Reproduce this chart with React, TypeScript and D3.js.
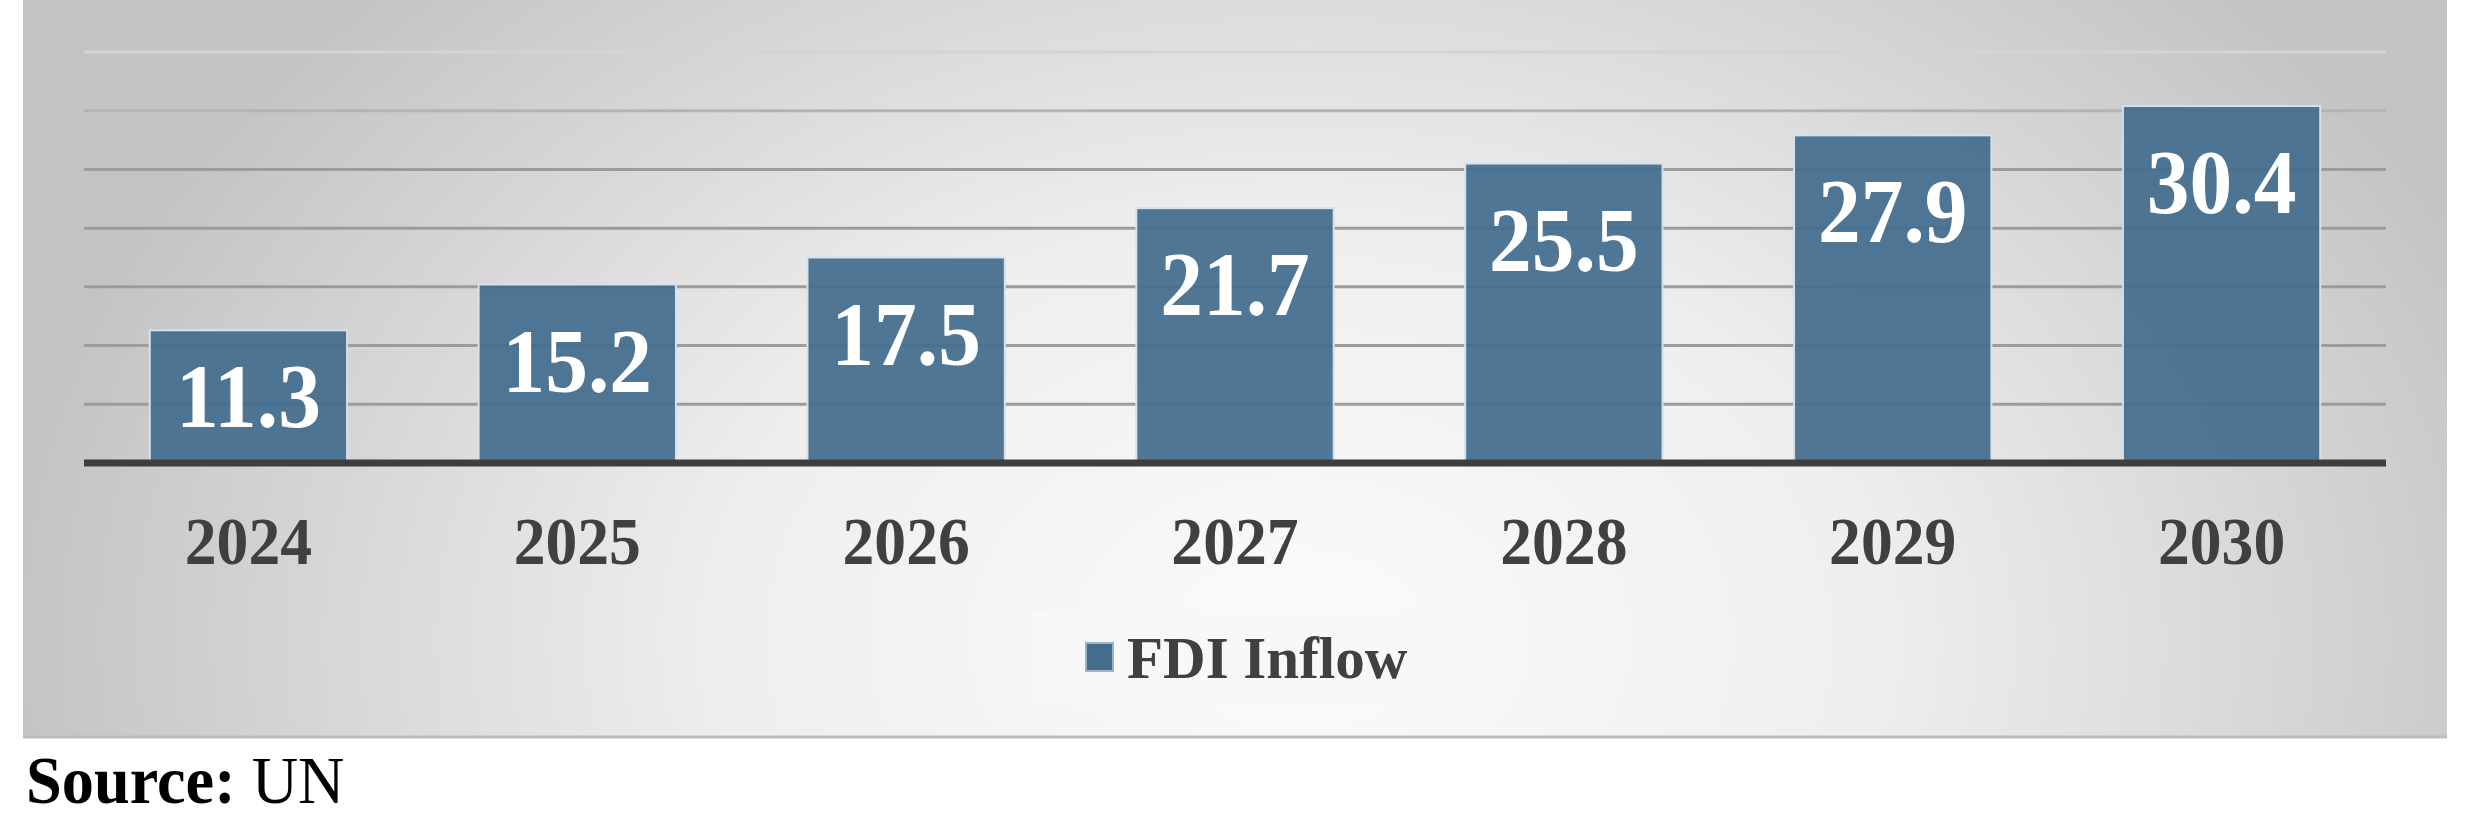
import React from 'react';
import * as d3 from 'd3';

// FDI inflow by year
const years = ['2024', '2025', '2026', '2027', '2028', '2029', '2030'];
const fdiInflow = [11.3, 15.2, 17.5, 21.7, 25.5, 27.9, 30.4];
const gridTicks = [5, 10, 15, 20, 25, 30, 35];
const legendLabel = 'FDI Inflow';

const W = 2476;
const H = 830;
const FONT = '"Liberation Serif", "Times New Roman", serif';
const BAR = '#436d8d';
const TEXT = '#404040';

const App = () => {
  const x = d3.scaleBand<string>()
    .domain(years)
    .range([84, 2386])
    .paddingInner(0.4)
    .paddingOuter(0.2);

  const y = d3.scaleLinear()
    .domain([0, 35])
    .range([463, 52]);

  const gridColor = (t: number) => (t === 35 ? '#d4d4d4' : t === 30 ? '#b4b4b4' : '#9c9c9c');

  return (
    <svg width={W} height={H} style={{ position: 'absolute', left: 0, top: 0, display: 'block' }}>
      <defs>
        <radialGradient
          id="panelBg"
          gradientUnits="userSpaceOnUse"
          cx={1300}
          cy={640}
          r={1300}
          gradientTransform="translate(1300,640) scale(1,0.72) translate(-1300,-640)"
        >
          <stop offset="0" stopColor="#fbfbfb" />
          <stop offset="0.45" stopColor="#eeeeee" />
          <stop offset="1" stopColor="#c3c3c3" />
        </radialGradient>
      </defs>

      {/* background panel */}
      <rect x={23} y={0} width={2424} height={738} fill="url(#panelBg)" />
      <line x1={23} x2={2447} y1={737} y2={737} stroke="#bdbdbd" strokeWidth={3} />

      {/* gridlines */}
      {gridTicks.map(t => (
        <line key={t} x1={x.range()[0]} x2={x.range()[1]} y1={y(t)} y2={y(t)}
          stroke={gridColor(t)} strokeWidth={3} />
      ))}

      {/* bars */}
      {years.map((yr, i) => (
        <rect key={yr}
          x={x(yr)}
          y={y(fdiInflow[i])}
          width={x.bandwidth()}
          height={y(0) - y(fdiInflow[i])}
          fill={BAR}
          fillOpacity={0.93}
          stroke="#d6e0ea"
          strokeWidth={2} />
      ))}

      {/* axis line */}
      <line x1={x.range()[0]} x2={x.range()[1]} y1={y(0)} y2={y(0)} stroke="#3e3e3e" strokeWidth={7} />

      {/* value labels */}
      {years.map((yr, i) => {
        const top = y(fdiInflow[i]);
        const cy = Math.min(top + 77, (top + y(0)) / 2);
        const cx = (x(yr) as number) + x.bandwidth() / 2;
        return (
          <text key={yr} transform={`translate(${cx},${cy + 30}) scale(0.95,1)`}
            textAnchor="middle" fill="#ffffff" fontFamily={FONT} fontWeight="bold" fontSize={90}>
            {fdiInflow[i].toFixed(1)}
          </text>
        );
      })}

      {/* year labels */}
      {years.map(yr => (
        <text key={yr} transform={`translate(${(x(yr) as number) + x.bandwidth() / 2},564) scale(0.95,1)`}
          textAnchor="middle" fill={TEXT} fontFamily={FONT} fontWeight="bold" fontSize={67}>
          {yr}
        </text>
      ))}

      {/* legend */}
      <rect x={1032} y={610} width={403} height={95} fill="#f8f8f8" />
      <rect x={1086} y={643} width={27} height={28} fill={BAR} stroke="#9fb3c6" strokeWidth={2} />
      <text x={1127} y={678} fill={TEXT} fontFamily={FONT} fontWeight="bold" fontSize={59}>
        {legendLabel}
      </text>

      {/* source */}
      <text transform="translate(26,803) scale(0.96,1)" fill="#000" fontFamily={FONT} fontSize={67}>
        <tspan fontWeight="bold">Source:</tspan>
        <tspan> UN</tspan>
      </text>
    </svg>
  );
};

export default App;
